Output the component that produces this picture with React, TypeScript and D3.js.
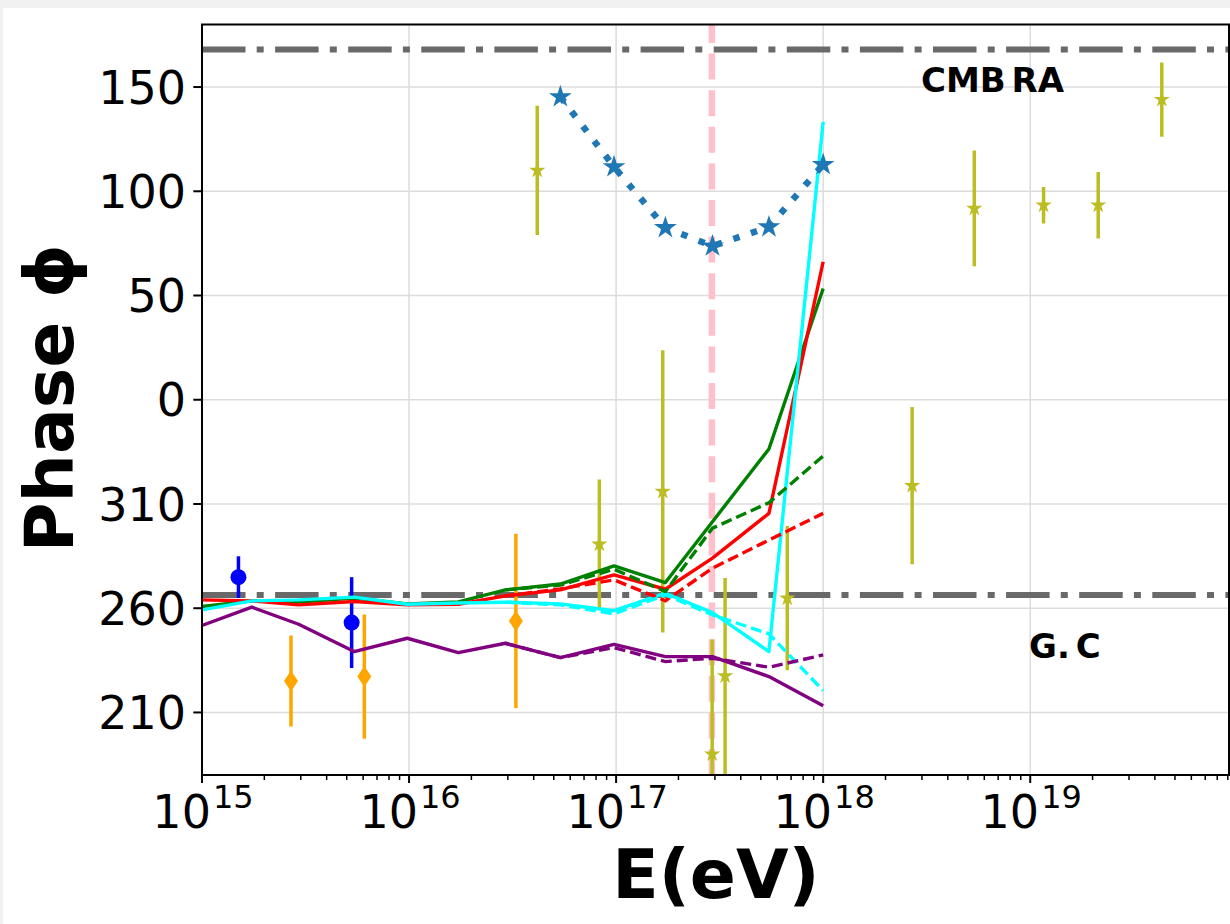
import React from "react";
import * as d3 from "d3";

// ---- data (phase in degrees, as shown on the axis) ----
const nodeEnergy = [1e15, 1.74e15, 2.93e15, 5.43e15, 9.8e15, 1.73e16, 2.92e16, 5.38e16, 9.77e16, 1.73e17, 2.92e17, 5.47e17, 1e18];
const redSolid = [264.0, 263.5, 261.6, 263.2, 261.6, 261.9, 265.9, 268.8, 276.0, 269.1, 284.0, 305.5, 66.2];
const greenSolid = [260.8, 263.5, 263.0, 264.9, 262.1, 263.0, 268.8, 271.6, 280.3, 272.3, 301.5, 336.4, 53.4];
const cyanSolid = [259.2, 263.5, 264.0, 265.3, 261.9, 262.5, 262.9, 262.1, 258.8, 267.2, 257.9, 239.2, 133.3];
const purpleSolid = [251.7, 260.5, 252.3, 239.2, 245.6, 238.7, 243.2, 236.3, 242.7, 236.8, 236.8, 227.2, 213.2];

const dashedEnergy = [2.92e16, 5.38e16, 9.77e16, 1.73e17, 2.92e17, 5.47e17, 1e18];
const redDashed = [265.9, 269.3, 273.6, 263.6, 279.2, 292.7, 305.5];
const greenDashed = [268.8, 271.1, 278.7, 268.0, 298.4, 310.6, 333.0];
const cyanDashed = [262.9, 261.6, 257.3, 266.4, 256.8, 247.7, 220.5];
const purpleDashed = [243.2, 236.3, 241.1, 234.4, 236.0, 231.7, 237.6];

const starEnergy = [5.38e16, 9.77e16, 1.73e17, 2.92e17, 5.47e17, 1e18];
const starPhase = [145.3, 111.7, 82.5, 73.7, 82.9, 112.8];

const oliveEnergy = [4.16e16, 8.3e16, 1.68e17, 2.91e17, 3.36e17, 6.71e17, 2.69e18, 5.37e18, 1.16e19, 2.13e19, 4.32e19];
const olivePhase = [110, 290.7, 316, 190, 227.5, 264.8, 318.8, 91.8, 93.3, 93.3, 144];
const oliveErr = [31, 31, 67.7, 55, 47, 34.6, 37.7, 27.8, 8.8, 16, 17.8];

const blueEnergy = [1.5e15, 5.28e15];
const bluePhase = [274.9, 253.1];
const blueErr = [10, 21.8];

const orangeEnergy = [2.69e15, 6.08e15, 3.28e16];
const orangePhase = [225.1, 227.2, 253.9];
const orangeErr = [21.8, 29.8, 41.8];

const cmbRA = 168;
const gcRA = 266.4;
const markerEnergy = 2.9e17;

const yTickLabels = [150, 100, 50, 0, 310, 260, 210];
const xTickExponents = [15, 16, 17, 18, 19];

const FONT = "DejaVu Sans";

export default function App() {
  const W = 1230, H = 924;
  const left = 202, right = 1229, top = 24.5, bottom = 775;
  const x = d3.scaleLog().domain([1e15, Math.pow(10, 19.96)]).range([left, right]);
  const y = d3.scaleLinear().domain([-180, 180]).range([bottom, top]);
  const wrap = (p: number) => (p > 180 ? p - 360 : p);
  const mkLine = (es: number[], ps: number[]) =>
    d3.line<number>().x((_, i) => x(es[i])).y((p) => y(wrap(p)))(ps) || "";

  const starBig = d3.symbol(d3.symbolStar, 162)() || "";
  const starSmall = d3.symbol(d3.symbolStar, 82)() || "";
  const diamond = "M0,-10.5L7,0L0,10.5L-7,0Z";

  const minor: number[] = [];
  for (let d = 15; d <= 19; d++) {
    for (let k = 2; k <= 9; k++) {
      const v = k * Math.pow(10, d);
      if (x(v) <= right + 0.5) minor.push(v);
    }
  }

  const solids = [
    { e: nodeEnergy, p: greenSolid, c: "#008000" },
    { e: nodeEnergy, p: redSolid, c: "#ff0000" },
    { e: nodeEnergy, p: cyanSolid, c: "#00ffff" },
    { e: nodeEnergy, p: purpleSolid, c: "#800080" },
  ];
  const dashes = [
    { e: dashedEnergy, p: greenDashed, c: "#008000" },
    { e: dashedEnergy, p: redDashed, c: "#ff0000" },
    { e: dashedEnergy, p: cyanDashed, c: "#00ffff" },
    { e: dashedEnergy, p: purpleDashed, c: "#800080" },
  ];

  const errBars = (es: number[], ps: number[], errs: number[], color: string, w: number) =>
    es.map((e, i) => {
      const c = wrap(ps[i]);
      return (
        <line key={color + i} x1={x(e)} x2={x(e)} y1={y(c - errs[i])} y2={y(c + errs[i])}
          stroke={color} strokeWidth={w} />
      );
    });

  return (
    <svg width={W} height={H} style={{ position: "absolute", left: 0, top: 0 }} fontFamily={FONT}>
      <defs>
        <clipPath id="plot">
          <rect x={left} y={top} width={right - left} height={bottom - top} />
        </clipPath>
      </defs>
      <rect x={0} y={0} width={W} height={H} fill="#f1f1f1" />
      <rect x={3} y={8} width={W - 3} height={H - 8} fill="#ffffff" />

      {/* grid */}
      <g stroke="#dcdcdc" strokeWidth={1.5}>
        {xTickExponents.map((d) => (
          <line key={"gx" + d} x1={x(Math.pow(10, d))} x2={x(Math.pow(10, d))} y1={top} y2={bottom} />
        ))}
        {yTickLabels.map((v) => (
          <line key={"gy" + v} x1={left} x2={right} y1={y(wrap(v))} y2={y(wrap(v))} />
        ))}
      </g>

      <g clipPath="url(#plot)">
        {/* reference lines */}
        {[cmbRA, gcRA].map((v) => (
          <line key={"h" + v} x1={left} x2={right} y1={y(wrap(v))} y2={y(wrap(v))}
            stroke="#696969" strokeWidth={6} strokeDasharray="43.5,11.2,7,11.4" />
        ))}
        <line x1={x(markerEnergy)} x2={x(markerEnergy)} y1={bottom} y2={top}
          stroke="#ffc0cb" strokeWidth={6.5} strokeDasharray="26,10.6" />

        {/* data points with error bars */}
        {errBars(oliveEnergy, olivePhase, oliveErr, "#bcbd22", 3.5)}
        {oliveEnergy.map((e, i) => (
          <path key={"os" + i} d={starSmall} fill="#bcbd22"
            transform={`translate(${x(e)},${y(wrap(olivePhase[i]))})`} />
        ))}
        {errBars(blueEnergy, bluePhase, blueErr, "#0000ff", 3.5)}
        {blueEnergy.map((e, i) => (
          <circle key={"bc" + i} cx={x(e)} cy={y(wrap(bluePhase[i]))} r={8} fill="#0000ff" />
        ))}
        {errBars(orangeEnergy, orangePhase, orangeErr, "#ffa500", 3.5)}
        {orangeEnergy.map((e, i) => (
          <path key={"od" + i} d={diamond} fill="#ffa500"
            transform={`translate(${x(e)},${y(wrap(orangePhase[i]))})`} />
        ))}

        {/* model lines */}
        {solids.map((s, i) => (
          <path key={"s" + i} d={mkLine(s.e, s.p)} fill="none" stroke={s.c} strokeWidth={3.4}
            strokeLinejoin="round" />
        ))}
        {dashes.map((s, i) => (
          <path key={"d" + i} d={mkLine(s.e, s.p)} fill="none" stroke={s.c} strokeWidth={3.4}
            strokeDasharray="11,5" />
        ))}

        {/* star series */}
        <path d={mkLine(starEnergy, starPhase)} fill="none" stroke="#1f77b4" strokeWidth={6.5}
          strokeDasharray="6.5,12" />
        {starEnergy.map((e, i) => (
          <path key={"st" + i} d={starBig} fill="#1f77b4"
            transform={`translate(${x(e)},${y(wrap(starPhase[i]))})`} />
        ))}
      </g>

      {/* spines */}
      <rect x={left} y={top} width={right - left} height={bottom - top} fill="none" stroke="#000" strokeWidth={2} />

      {/* y ticks */}
      {yTickLabels.map((v) => (
        <g key={"yt" + v}>
          <line x1={left - 8.7} x2={left} y1={y(wrap(v))} y2={y(wrap(v))} stroke="#000" strokeWidth={2} />
          <text x={left - 16} y={y(wrap(v))} dy="0.36em" textAnchor="end" fontSize={46} fill="#000">{v}</text>
        </g>
      ))}

      {/* x ticks */}
      {xTickExponents.map((d) => (
        <g key={"xt" + d}>
          <line x1={x(Math.pow(10, d))} x2={x(Math.pow(10, d))} y1={bottom} y2={bottom + 8} stroke="#000" strokeWidth={2} />
          <text x={x(Math.pow(10, d)) + 1} y={828} textAnchor="middle" fontSize={46} fill="#000">
            10<tspan fontSize={32} dy={-20} dx={2}>{d}</tspan>
          </text>
        </g>
      ))}
      {minor.map((v, i) => (
        <line key={"mt" + i} x1={x(v)} x2={x(v)} y1={bottom} y2={bottom + 5} stroke="#000" strokeWidth={1.5} />
      ))}

      {/* axis labels */}
      <text x={716} y={898} textAnchor="middle" fontSize={68} fontWeight="bold" fill="#000">E(eV)</text>
      <text transform="translate(73,398) rotate(-90)" textAnchor="middle" fontSize={68} fontWeight="bold" fill="#000">
        Phase ϕ
      </text>

      {/* annotations */}
      <text x={921} y={91.7} fontSize={34} fontWeight="bold" wordSpacing={-6} fill="#000">CMB RA</text>
      <text x={1029} y={658.3} fontSize={34} fontWeight="bold" wordSpacing={-6} fill="#000">G. C</text>
    </svg>
  );
}
